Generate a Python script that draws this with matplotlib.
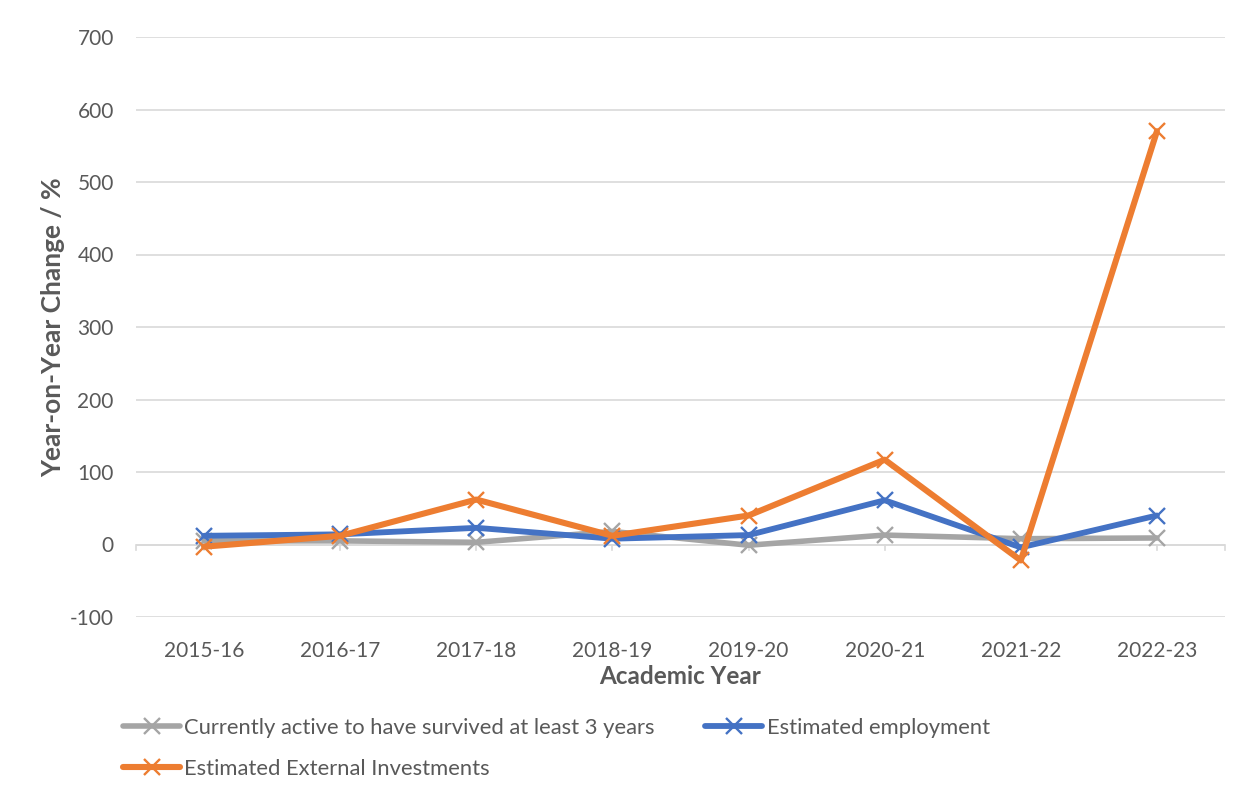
import matplotlib
matplotlib.use("Agg")
import matplotlib.pyplot as plt

plt.rcParams['font.family'] = ['Lato', 'DejaVu Sans']
plt.rcParams['axes.unicode_minus'] = False

years = ["2015-16", "2016-17", "2017-18", "2018-19", "2019-20", "2020-21", "2021-22", "2022-23"]
survived = [5, 5, 3, 18, -1, 13, 8, 9]
employment = [12, 14, 23, 8, 13, 61, -4, 40]
investments = [-3, 12, 62, 12, 40, 117, -22, 570]

GRAY = "#A5A5A5"
BLUE = "#4472C4"
ORANGE = "#ED7D31"
TXT = "#595959"

fig = plt.figure(figsize=(12.53, 7.96), dpi=100)
ax = fig.add_axes([136/1253, 1-617/796, (1225-136)/1253, (617-37)/796])

x = list(range(len(years)))
common = dict(marker='x', markersize=12, markeredgewidth=1.7, solid_capstyle='round', solid_joinstyle='round')
l1, = ax.plot(x, survived, color=GRAY, lw=4.0, zorder=3, label="Currently active to have survived at least 3 years", **common)
l2, = ax.plot(x, employment, color=BLUE, lw=4.2, zorder=4, label="Estimated employment", **common)
l3, = ax.plot(x, investments, color=ORANGE, lw=4.4, zorder=5, label="Estimated External Investments", **common)

ax.set_xlim(-0.5, 7.5)
ax.set_ylim(-100, 700)
ax.set_yticks(range(-100, 701, 100))
for s in ax.spines.values():
    s.set_visible(False)
ax.grid(axis='y', color='#D9D9D9', lw=1.2, zorder=0)
ax.set_axisbelow(True)
ax.tick_params(axis='y', length=0, pad=16, labelsize=15, labelcolor=TXT)
ax.tick_params(axis='x', length=0, pad=17, labelsize=15, labelcolor=TXT)
ax.set_xticks(x)
ax.set_xticklabels(years)

# category axis at zero with tick marks
ax.axhline(0, color='#D9D9D9', lw=1.2, zorder=1)
tick_pos = [-0.5] + x + [7.5]
for tp in tick_pos:
    ax.plot([tp, tp], [0, -7], color='#D9D9D9', lw=1.2, zorder=1, clip_on=False)

ax.set_xlabel("Academic Year", fontsize=17.5, fontweight='bold', color=TXT, labelpad=3)
ax.set_ylabel("Year-on-Year Change / %", fontsize=19, fontweight='bold', color=TXT, labelpad=3)

fig.legend(handles=[l1, l3, l2], loc='upper left', bbox_to_anchor=(123/1253, 1-718/796),
           ncol=2, frameon=False, fontsize=15.8, labelcolor=TXT, handlelength=2.6,
           handletextpad=0.2, columnspacing=2.3, labelspacing=0.95, borderaxespad=0, borderpad=0)

fig.savefig("out.png", dpi=100)
